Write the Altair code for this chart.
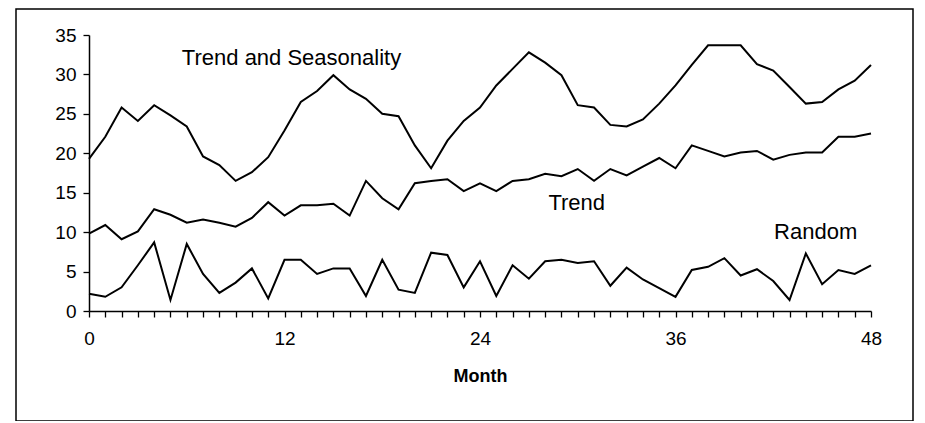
import altair as alt
import pandas as pd

months = list(range(49))

trend_seasonality = [19.3, 22.1, 25.8, 24.1, 26.1, 24.8, 23.4, 19.6, 18.5, 16.5,
                     17.6, 19.5, 22.9, 26.5, 27.9, 29.9, 28.1, 26.9, 25.0, 24.7,
                     21.0, 18.1, 21.6, 24.1, 25.8, 28.6, 30.7, 32.8, 31.5, 29.9,
                     26.1, 25.8, 23.6, 23.4, 24.3, 26.3, 28.6, 31.2, 33.7, 33.7,
                     33.7, 31.3, 30.5, 28.4, 26.3, 26.5, 28.1, 29.2, 31.2]

trend = [9.8, 10.9, 9.1, 10.1, 12.9, 12.2, 11.2, 11.6, 11.2, 10.7,
         11.8, 13.8, 12.1, 13.4, 13.4, 13.6, 12.1, 16.5, 14.3, 12.9,
         16.2, 16.5, 16.7, 15.2, 16.2, 15.2, 16.5, 16.7, 17.4, 17.1,
         18.0, 16.5, 18.0, 17.2, 18.3, 19.4, 18.1, 21.0, 20.3, 19.6,
         20.1, 20.3, 19.2, 19.8, 20.1, 20.1, 22.1, 22.1, 22.5]

random_part = [2.2, 1.8, 3.0, 5.8, 8.7, 1.4, 8.5, 4.7, 2.3, 3.6,
               5.4, 1.6, 6.5, 6.5, 4.7, 5.4, 5.4, 1.9, 6.5, 2.7,
               2.3, 7.4, 7.1, 3.0, 6.3, 1.9, 5.8, 4.1, 6.3, 6.5,
               6.1, 6.3, 3.2, 5.5, 4.0, 2.9, 1.8, 5.2, 5.6, 6.7,
               4.5, 5.3, 3.8, 1.4, 7.3, 3.4, 5.2, 4.7, 5.8]

series_names = ["Trend and Seasonality", "Trend", "Random"]

label_text = ["Trend and Seasonality", "Trend", "Random"]
label_month = [5.7, 28.2, 42.05]
label_value = [32.1, 13.7, 10.0]

y_ticks = [0, 5, 10, 15, 20, 25, 30, 35]

rows = []
for name, vals in zip(series_names, [trend_seasonality, trend, random_part]):
    for m, v in zip(months, vals):
        rows.append({"Month": m, "Value": v, "Series": name})
df = pd.DataFrame(rows)

labels_df = pd.DataFrame({"Month": label_month, "Value": label_value, "Text": label_text})

FONT = "Liberation Sans"

x_scale = alt.Scale(domain=[0, 48], nice=False, zero=False)
y_scale = alt.Scale(domain=[0, 35], nice=False)

x_axis = alt.Axis(values=months, labelExpr="datum.value % 12 == 0 ? datum.label : ''",
                  title="Month", labelOverlap=False, labelFlush=False)
y_axis = alt.Axis(values=y_ticks, title=None, labelOverlap=False, labelFlush=False)

lines = alt.Chart(df).mark_line(color="black", strokeWidth=2).encode(
    x=alt.X("Month:Q", scale=x_scale, axis=x_axis),
    y=alt.Y("Value:Q", scale=y_scale, axis=y_axis),
    detail="Series:N",
)

texts = alt.Chart(labels_df).mark_text(align="left", baseline="middle", font=FONT,
                                        fontSize=22, color="black").encode(
    x=alt.X("Month:Q", scale=x_scale, axis=x_axis),
    y=alt.Y("Value:Q", scale=y_scale, axis=y_axis),
    text="Text:N",
)

frame = alt.Chart(pd.DataFrame({"a": [0]})).mark_rect(
    fill=None, stroke="black", strokeWidth=1.5, clip=False
).encode(
    x=alt.value(-73), x2=alt.value(824), y=alt.value(-26), y2=alt.value(386)
)

chart = alt.layer(lines, texts, frame).properties(
    width=782, height=276,
    autosize=alt.AutoSizeParams(type="none"),
    padding={"left": 81, "top": 27, "right": 46, "bottom": 110},
    background="white",
).configure_view(
    stroke=None
).configure_axis(
    labelFont=FONT, labelFontSize=19, labelColor="black",
    titleFont=FONT, titleFontSize=18, titleFontWeight="bold", titleColor="black",
    tickSize=6, tickColor="black", tickWidth=1.3,
    domainColor="black", domainWidth=1.5, grid=False,
).configure_axisX(
    labelPadding=12, titlePadding=19
).configure_axisY(
    labelPadding=7
)

chart.save("out.html", embed_options={"renderer": "svg", "actions": False})
